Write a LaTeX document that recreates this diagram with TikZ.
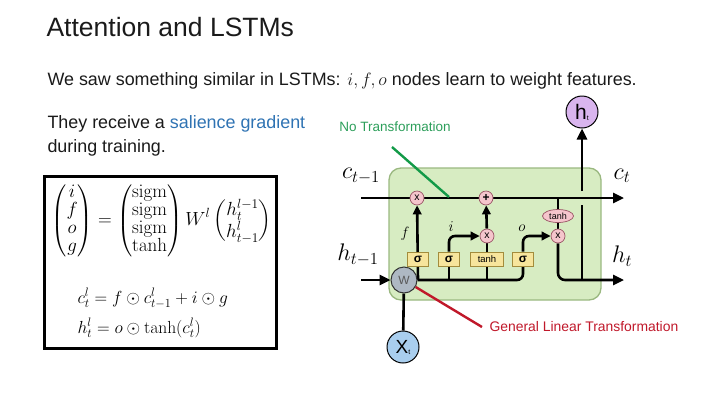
\RequirePackage{fix-cm}
\documentclass[tikz,border=0pt]{standalone}
\usepackage{amsmath}
\usepackage[no-math]{fontspec}
\setmainfont{Liberation Sans}
\usetikzlibrary{arrows.meta,shapes.geometric,calc}
\pgfdeclarelayer{bg}\pgfdeclarelayer{lines}
\pgfsetlayers{bg,lines,main}
\definecolor{cellf}{HTML}{D7ECC2}
\definecolor{celld}{HTML}{9AB880}
\definecolor{opf}{HTML}{F5C5CC}
\definecolor{opd}{HTML}{9A5565}
\definecolor{gatef}{HTML}{F7E59C}
\definecolor{gated}{HTML}{A38C3C}
\definecolor{htf}{HTML}{D9B5EE}
\definecolor{xtf}{HTML}{A9CEEE}
\definecolor{wf}{HTML}{AEB8C3}
\definecolor{salblue}{HTML}{2F73B3}
\definecolor{notr}{HTML}{2C9E5A}
\definecolor{notrline}{HTML}{139A48}
\definecolor{glt}{HTML}{C0182A}
\definecolor{txt}{HTML}{1A1A1A}
\begin{document}
\begin{tikzpicture}[x=1pt,y=-1pt,
  arr/.style={-{Triangle[length=9pt,width=8.5pt]}},
  bigarr/.style={-{Triangle[length=11pt,width=10pt]}},
  flow/.style={line width=2.6pt, black},
  op/.style={circle, draw=opd, fill=opf, line width=0.7pt, minimum size=14pt, inner sep=0pt, font=\fontsize{10.5}{10.5}\selectfont},
  gate/.style={rectangle, draw=gated, fill=gatef, line width=0.7pt, minimum height=14pt, minimum width=21pt, inner sep=0pt, font=\fontsize{12}{12}\selectfont\bfseries},
  varlbl/.style={font=\fontsize{24}{24}\selectfont},
  body/.style={anchor=base west, font=\fontsize{17.9}{22}\selectfont, text=txt},
  ball/.style={circle, draw=black, line width=1pt, inner sep=0pt}
]
\useasboundingbox (0,0) rectangle (720,405);
% title and body text
\node[anchor=base west, font=\fontsize{26.5}{30}\selectfont, text=txt] (title) at (43,36) {Attention and LSTMs};
\node[body] (l1) at (44,85) {We saw something similar in LSTMs: $i, f, o$ nodes learn to weight features.};
\node[body] (l2) at (44,128) {They receive a \textcolor{salblue}{salience gradient}};
\node[body] (l3) at (44,152) {during training.};
% equation box
\node[draw=black, line width=2.8pt, minimum width=232pt, minimum height=172pt] (eqbox) at (160.5,262.5) {};
\node[font=\fontsize{19}{18}\selectfont] (eq1) at (161.5,221) {$\displaystyle
\begin{pmatrix} i\\ f\\ o\\ g\end{pmatrix} =
\begin{pmatrix}\mathrm{sigm}\\ \mathrm{sigm}\\ \mathrm{sigm}\\ \tanh\end{pmatrix}
W^{l}\begin{pmatrix} h_t^{l-1}\\ h_{t-1}^{l}\end{pmatrix}$};
\node[anchor=base west, font=\fontsize{17.5}{19}\selectfont] (eq2) at (74,303) {$c_t^l = f\odot c_{t-1}^l + i\odot g$};
\node[anchor=base west, font=\fontsize{17.5}{19}\selectfont] (eq3) at (74,333) {$h_t^l = o\odot \tanh(c_t^l)$};
% LSTM cell
\begin{pgfonlayer}{bg}
\draw[draw=celld, fill=cellf, line width=1.3pt, rounded corners=12pt] (389,168) rectangle (601,300);
\end{pgfonlayer}
\coordinate (cin) at (361,198);
\coordinate (cout) at (624,198);
\coordinate (hin) at (361,280);
\coordinate (hout) at (624,280);
\node[op] (x1) at (417,198) {x};
\node[op, font=\fontsize{12}{12}\selectfont\bfseries] (plus) at (486,198) {+};
\node[op] (x2) at (487,236) {x};
\node[op] (x3) at (558,236) {x};
\node[ellipse, draw=opd, fill=opf, line width=0.7pt, minimum width=31pt, minimum height=13pt, inner sep=0pt, font=\fontsize{9}{9}\selectfont] (tnh) at (558,216) {tanh};
\node[gate] (sf) at (418,259) {σ};
\node[gate] (si) at (449,259) {σ};
\node[gate, minimum width=33pt, font=\fontsize{9.5}{9.5}\selectfont] (sg) at (487,259) {tanh};
\node[gate] (so) at (523,259) {σ};
\node[circle, draw=black!80, fill=wf, line width=1pt, minimum size=26pt, inner sep=0pt, font=\fontsize{12}{12}\selectfont, text=black!65] (W) at (404,280) {W};
\node[ball, fill=xtf, minimum size=32pt] (xt) at (403,347) {\fontsize{19}{19}\selectfont X\raisebox{-1pt}{\fontsize{7}{7}\selectfont t}};
\node[ball, fill=htf, minimum size=32pt] (ht) at (582,112) {\fontsize{21}{21}\selectfont h\raisebox{-1pt}{\fontsize{7}{7}\selectfont t}};
\node[font=\fontsize{15}{15}\selectfont] (fl) at (405,234) {$f$};
\node[font=\fontsize{15}{15}\selectfont] (il) at (451,227) {$i$};
\node[font=\fontsize{15}{15}\selectfont] (ol) at (522,228) {$o$};
\node[varlbl] (cprev) at (361,176) {$c_{t-1}$};
\node[varlbl] (cnext) at (622,176) {$c_t$};
\node[varlbl] (hprev) at (358,255) {$h_{t-1}$};
\node[varlbl] (hnext) at (622,256) {$h_t$};
\begin{pgfonlayer}{lines}
\draw[flow, bigarr] (cin) -- (x1.center) -- (plus.center) -- (cout);
\draw[flow] (tnh) -- (tnh |- cout);
\draw[flow] (tnh) -- (x3);
\draw[flow, arr] (sf |- W) -- (x1);
\draw[flow, arr, rounded corners=6pt] (si.north) |- (x2);
\draw[flow] (sg) -- (x2);
\draw[flow, arr] (x2) -- (plus);
\draw[flow, arr, rounded corners=6pt] (so.north) |- (x3);
\draw[flow, rounded corners=6pt] (W) -- (so |- W) -- (so.south);
\draw[flow] (si.south) -- (si |- W);
\draw[flow] (sg.south) -- (sg |- W);
\draw[flow, bigarr] (hin) -- (W);
\draw[flow, bigarr, rounded corners=7pt] (x3) |- (hout);
\draw[flow] (ht |- hout) -- ($(ht |- cout)+(0,7)$);
\draw[flow, bigarr] ($(ht |- cout)+(0,-7)$) -- (ht);
\draw[flow] (W) -- (xt);
\end{pgfonlayer}
% annotations
\node[font=\fontsize{13.5}{13.5}\selectfont, text=notr] (notrans) at (395,127) {No Transformation};
\node[font=\fontsize{13.9}{13.9}\selectfont, text=glt, anchor=west] (genlin) at (486,327) {General Linear Transformation};
\coordinate (g1) at (392,147);
\coordinate (g2) at (449,197);
\draw[notrline, line width=2.4pt] (g1) -- (g2);
\draw[glt, line width=2.4pt] (W) -- ([xshift=-4pt]genlin.west);
\end{tikzpicture}
\end{document}
